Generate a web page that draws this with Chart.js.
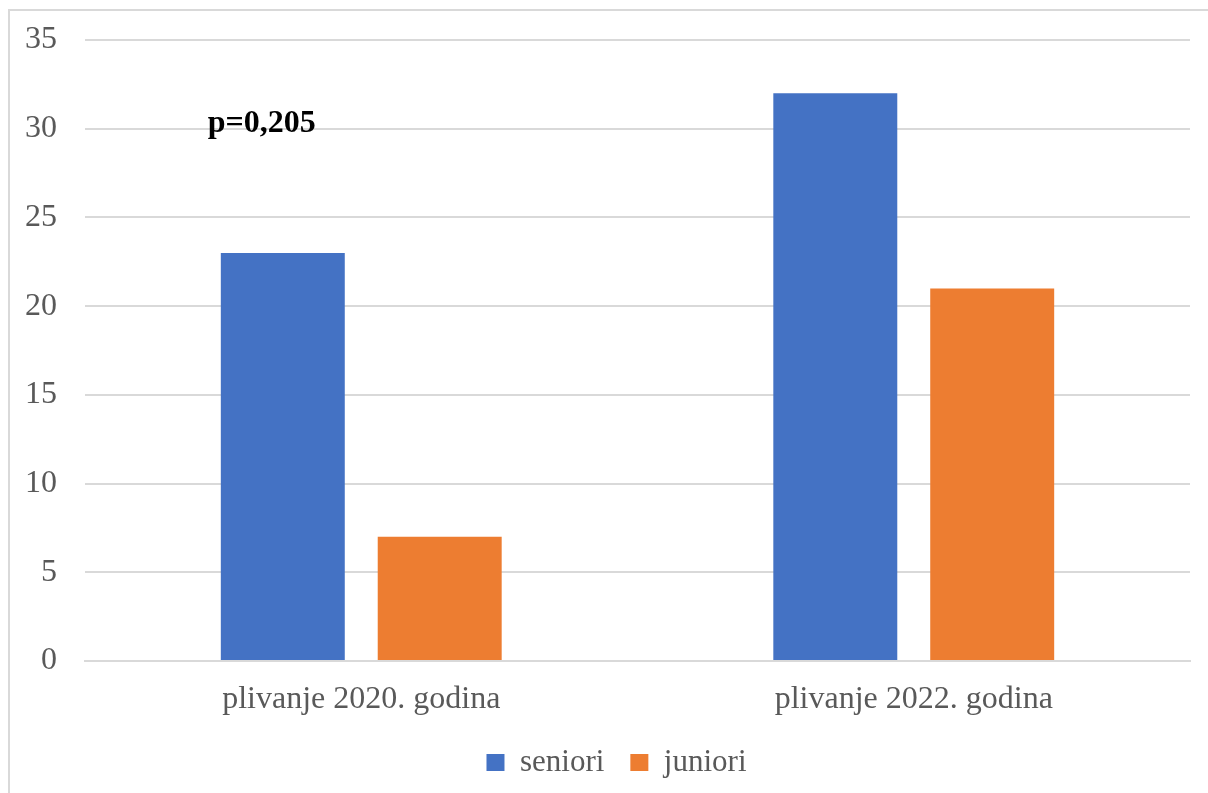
<!DOCTYPE html>
<html>
<head>
<meta charset="utf-8">
<script src="https://cdn.jsdelivr.net/npm/chart.js@4/dist/chart.umd.min.js"></script>
<style>
  html, body { margin: 0; padding: 0; background: #fff; }
  canvas { display: block; }
</style>
</head>
<body>
<canvas id="chart" width="1208" height="793"></canvas>
<script>
var categories = ['plivanje 2020. godina', 'plivanje 2022. godina'];
var seniori = [23, 32];
var juniori = [7, 21];
var yTicks = [0, 5, 10, 15, 20, 25, 30, 35];
var note = 'p=0,205';
var notePos = [-0.18, 30.3];

var textGray = '#595959';
var gridGray = '#d9d9d9';
var serif = '"Liberation Serif", "Times New Roman", serif';

// light frame around the whole picture, like the exported chart
var framePlugin = {
    id: 'frame',
    beforeDraw: function(chart) {
        var c = chart.ctx;
        c.save();
        c.fillStyle = '#fff';
        c.fillRect(0, 0, chart.width, chart.height);
        c.strokeStyle = gridGray;
        c.lineWidth = 2;
        c.strokeRect(9, 10, chart.width + 20, chart.height + 20);
        c.restore();
    }
};

var notePlugin = {
    id: 'note',
    afterDatasetsDraw: function(chart) {
        var c = chart.ctx;
        var x = chart.scales.x.getPixelForValue(notePos[0]);
        var y = chart.scales.y.getPixelForValue(notePos[1]);
        c.save();
        c.font = 'bold 32px ' + serif;
        c.fillStyle = '#000';
        c.textAlign = 'center';
        c.textBaseline = 'middle';
        c.fillText(note, x, y);
        c.restore();
    }
};

var ctx = document.getElementById('chart').getContext('2d');
var chart = new Chart(ctx, {
    type: 'bar',
    data: {
        labels: categories,
        datasets: [{
            label: 'seniori',
            data: seniori,
            backgroundColor: '#4472c4',
            borderWidth: 0
        }, {
            label: 'juniori',
            data: juniori,
            backgroundColor: '#ed7d31',
            borderWidth: 0
        }]
    },
    options: {
        responsive: false,
        animation: false,
        devicePixelRatio: 1,
        categoryPercentage: 0.568,
        barPercentage: 0.79,
        layout: {
            padding: { top: 40, right: 0, bottom: 5, left: 25 }
        },
        scales: {
            x: {
                afterFit: function(scale) { scale.height = 60; },
                grid: { display: false, drawTicks: false },
                border: { display: true, color: gridGray, width: 2 },
                ticks: {
                    color: textGray,
                    padding: 19,
                    font: { family: serif, size: 32 }
                }
            },
            y: {
                min: 0,
                max: 35,
                afterFit: function(scale) {
                    scale.width = 60;
                    scale.paddingTop = 0;
                    scale.paddingBottom = 0;
                },
                afterBuildTicks: function(scale) {
                    scale.ticks = yTicks.map(function(v) { return { value: v }; });
                },
                grid: { color: gridGray, lineWidth: 2, drawTicks: false },
                border: { display: false },
                ticks: {
                    color: textGray,
                    padding: 28,
                    font: { family: serif, size: 32 }
                }
            },
            // empty right margin, kept as an axis so the legend stays centred like the original
            margin: {
                type: 'linear',
                position: 'right',
                afterFit: function(scale) {
                    scale.width = 18;
                    scale.paddingTop = 0;
                    scale.paddingBottom = 0;
                },
                grid: { display: false, drawTicks: false },
                border: { display: false },
                ticks: { display: false }
            }
        },
        plugins: {
            legend: {
                position: 'bottom',
                labels: {
                    color: textGray,
                    boxWidth: 18,
                    boxHeight: 17,
                    padding: 26,
                    font: { family: serif, size: 31 }
                }
            },
            tooltip: { enabled: false }
        }
    },
    plugins: [framePlugin, notePlugin]
});
</script>
</body>
</html>
